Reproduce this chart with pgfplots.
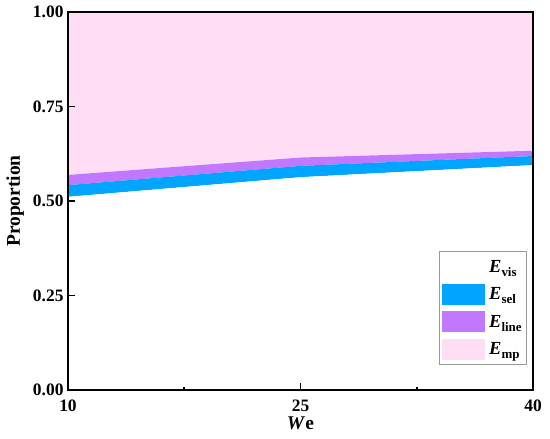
\documentclass[border=0pt]{standalone}
\usepackage{pgfplots}
\pgfplotsset{compat=1.18}
\usepackage{fontspec}
\setmainfont{Liberation Serif}
\definecolor{selblue}{HTML}{00A5FF}
\definecolor{linepurple}{HTML}{C177FF}
\definecolor{mppink}{HTML}{FFDDF4}
\newcommand{\Esub}[1]{{\bfseries\itshape E}{\fontsize{13}{13}\selectfont\bfseries\raisebox{-4bp}{#1}}}
\begin{document}
\begin{tikzpicture}
\begin{axis}[
    scale only axis,
    width=465bp, height=378bp,
    xmin=10, xmax=40, ymin=0, ymax=1,
    xtick={10,25,40},
    minor xtick={17.5,32.5},
    ytick={0,0.25,0.5,0.75,1},
    yticklabel style={xshift=-1bp, /pgf/number format/.cd,fixed,fixed zerofill,precision=2},
    /pgf/number format/assume math mode=true,
    tick label style={font=\fontsize{17.5}{18}\selectfont\bfseries},
    xticklabel style={yshift=-6bp},
    tick align=inside,
    xtick pos=bottom, ytick pos=left,
    major tick length=7bp, minor tick length=3.5bp,
    every tick/.style={black, line width=1.5bp},
    axis line style={line width=1.8bp},
    axis on top,
    xlabel={\textit{W}e},
    ylabel={Proportion},
    label style={font=\fontsize{19.5}{20}\selectfont\bfseries},
    xlabel style={yshift=0bp, inner ysep=2bp},
    ylabel style={yshift=2bp},
    stack plots=y,
    area legend,
    legend image code/.code={\fill[#1] (0bp,-10.5bp) rectangle (43bp,10.5bp);},
    legend cell align=left,
    legend style={at={(rel axis cs:0.987,0.066)}, anchor=south east,
        draw=gray!80, line width=0.6bp, fill=white,
        font=\fontsize{18.5}{19}\selectfont,
        row sep=6.5bp, inner xsep=3bp, inner ysep=5bp,
        /tikz/every odd column/.style={column sep=2bp}},
]
\addplot[fill=white, draw=none] coordinates {(10,0.511) (25,0.563) (40,0.595)} \closedcycle;
\addplot[fill=selblue, draw=none] coordinates {(10,0.031) (25,0.030) (40,0.024)} \closedcycle;
\addplot[fill=linepurple, draw=none] coordinates {(10,0.027) (25,0.022) (40,0.014)} \closedcycle;
\addplot[fill=mppink, draw=none] coordinates {(10,0.431) (25,0.385) (40,0.367)} \closedcycle;
\legend{\Esub{vis}, \Esub{sel}, \Esub{line}, \Esub{mp}}
\end{axis}
\path[use as bounding box] (-68bp,-49bp) rectangle (482bp,390bp);
\end{tikzpicture}
\end{document}
